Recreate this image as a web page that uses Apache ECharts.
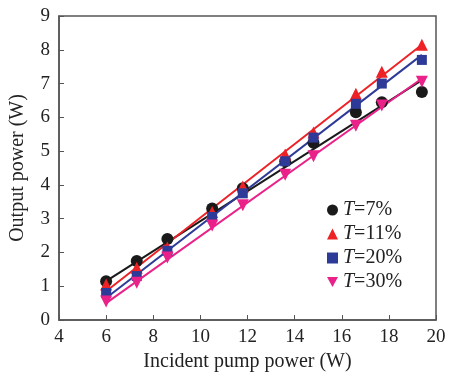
<!DOCTYPE html>
<html>
<head>
<meta charset="utf-8">
<script src="https://cdn.jsdelivr.net/npm/echarts@6/dist/echarts.min.js"></script>
<style>
  html, body { margin: 0; padding: 0; background: #fff; }
  #chart { width: 449px; height: 374px; }
</style>
</head>
<body>
<div id="chart"></div>
<script>
// pump power (W)
const pumpPower = [6, 7.3, 8.6, 10.5, 11.8, 13.6, 14.8, 16.6, 17.7, 19.4]

// measured output power (W)
const outT7 = [1.15, 1.75, 2.4, 3.3, 3.9, 4.7, 5.25, 6.15, 6.45, 6.75]
const outT11 = [1.05, 1.55, 2.15, 3.2, 3.95, 4.9, 5.55, 6.7, 7.35, 8.15]
const outT20 = [0.8, 1.3, 2.05, 3.05, 3.75, 4.7, 5.4, 6.4, 7.0, 7.7]
const outT30 = [0.55, 1.1, 1.85, 2.8, 3.4, 4.3, 4.85, 5.75, 6.35, 7.05]

// linear fits, value at the first and last pump power
const fitX = [6, 19.4]
const fitT7 = [1.15, 7.1]
const fitT11 = [0.85, 8.15]
const fitT20 = [0.65, 7.85]
const fitT30 = [0.5, 7.15]

const names = ['T=7%', 'T=11%', 'T=20%', 'T=30%']
const colors = ['#1a1a1a', '#ec2227', '#2e3a97', '#ea2189']
const downTriangle = 'path://M0,0 L10,0 L5,9 Z'
const symbols = ['circle', 'triangle', 'rect', downTriangle]
const sizes = [12, 12, 10, 12]

const font = '"Liberation Serif", "DejaVu Serif", serif'

const pairs = (xs, ys) => xs.map((x, i) => [x, ys[i]])

const measured = [outT7, outT11, outT20, outT30]
const fits = [fitT7, fitT11, fitT20, fitT30]

const series = []
fits.forEach((f, i) => {
  series.push({
    type: 'line',
    data: pairs(fitX, f),
    showSymbol: false,
    silent: true,
    lineStyle: { color: colors[i], width: 2 },
    z: 2
  })
})
measured.forEach((m, i) => {
  series.push({
    name: names[i],
    type: 'scatter',
    data: pairs(pumpPower, m),
    symbol: symbols[i],
    symbolSize: sizes[i],
    itemStyle: { color: colors[i], opacity: 1 },
    z: 3
  })
})

const chart = echarts.init(document.getElementById('chart'))
chart.setOption({
  animation: false,
  textStyle: { fontFamily: font },
  grid: {
    left: 59, right: 13, top: 16, bottom: 54,
    containLabel: false,
    outerBoundsMode: 'none',
    show: true, borderColor: '#555', borderWidth: 1.5
  },
  legend: {
    data: names.map((n, i) => ({ name: n, icon: symbols[i] })),
    orient: 'vertical',
    left: 322,
    top: 195,
    itemWidth: 11,
    itemHeight: 11,
    itemGap: 4,
    formatter: name => '{t|T}{n|=' + name.split('=')[1] + '}',
    textStyle: {
      lineHeight: 20,
      rich: {
        t: { fontFamily: font, fontStyle: 'italic', fontSize: 20, color: '#222' },
        n: { fontFamily: font, fontSize: 20, color: '#222' }
      }
    }
  },
  xAxis: {
    type: 'value',
    min: 4, max: 20, interval: 2,
    name: 'Incident pump power (W)',
    nameLocation: 'middle',
    nameGap: 31,
    nameTextStyle: { fontFamily: font, fontSize: 20, color: '#222' },
    axisLine: { lineStyle: { color: '#555', width: 1.5 } },
    axisTick: { inside: true, length: 5, lineStyle: { color: '#555' } },
    axisLabel: { fontFamily: font, fontSize: 19, color: '#222', margin: 8 },
    splitLine: { show: false }
  },
  yAxis: {
    type: 'value',
    min: 0, max: 9, interval: 1,
    name: 'Output power (W)',
    nameLocation: 'middle',
    nameGap: 31,
    nameTextStyle: { fontFamily: font, fontSize: 20, color: '#222' },
    axisLine: { lineStyle: { color: '#555', width: 1.5 } },
    axisTick: { inside: true, length: 5, lineStyle: { color: '#555' } },
    axisLabel: { fontFamily: font, fontSize: 19, color: '#222', margin: 9 },
    splitLine: { show: false }
  },
  series: series
})
</script>
</body>
</html>
